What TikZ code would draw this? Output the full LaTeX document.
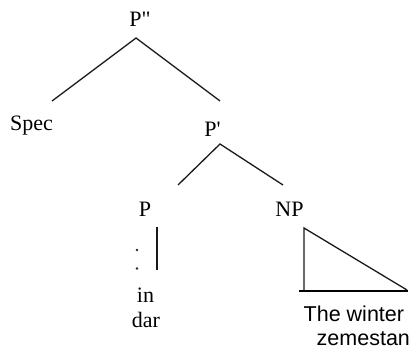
\documentclass[tikz,border=0pt]{standalone}
\usepackage{fontspec}
\setmainfont{Liberation Serif}
\newfontfamily\trm{Liberation Serif}
\newfontfamily\arialf{Liberation Sans}
\begin{document}
\begin{tikzpicture}[x=1pt,y=-1pt,
  lbl/.style={font=\trm\fontsize{22}{26}\selectfont, inner sep=0pt, anchor=base},
  sanslbl/.style={font=\arialf\fontsize{21.5}{26}\selectfont, inner sep=0pt, anchor=base west},
  branch/.style={line width=1.3pt, draw=black!90},
  basebar/.style={line width=2pt, draw=black},
  dotmark/.style={circle, fill=black!85, inner sep=0pt, minimum size=2.6pt}]
\useasboundingbox (0,0) rectangle (414,356);
% labels
\node[lbl] (Pdd) at (140,26) {P"};
\node[lbl] (Spec) at (31.5,130) {Spec};
\node[lbl] (Pb) at (212.5,136) {P'};
\node[lbl] (P) at (145,216) {P};
\node[lbl] (NP) at (289.5,216) {NP};
\node[lbl] (in) at (145.5,302) {in};
\node[lbl] (dar) at (146,327) {dar};
\node[sanslbl] (tw) at (303.5,321) {The winter};
\node[sanslbl] (zm) at (316.5,345) {zemestan};
% branch end points
\coordinate (Pdd-b) at (136,38);
\coordinate (Spec-t) at (52,101);
\coordinate (Pb-t) at (220,101);
\coordinate (Pb-b) at (220,144);
\coordinate (P-t) at (178,185);
\coordinate (NP-t) at (283,185);
\coordinate (P-b) at (157,227);
\coordinate (in-t) at (157,270);
\coordinate (tri-a) at (304,228);
\coordinate (tri-b) at (304,291);
\coordinate (tri-c) at (407,290);
\coordinate (bar-l) at (299,291);
\coordinate (bar-r) at (408,291);
% branches
\draw[branch] (Spec-t) -- (Pdd-b) -- (Pb-t);
\draw[branch] (P-t) -- (Pb-b) -- (NP-t);
\draw[branch] (P-b) -- (in-t);
\draw[branch] (tri-b) -- (tri-a) -- (tri-c);
\draw[basebar] (bar-l) -- (bar-r);
% dots
\node[dotmark] (d1) at (137,250) {};
\node[dotmark] (d2) at (137,268.5) {};
\end{tikzpicture}
\end{document}
